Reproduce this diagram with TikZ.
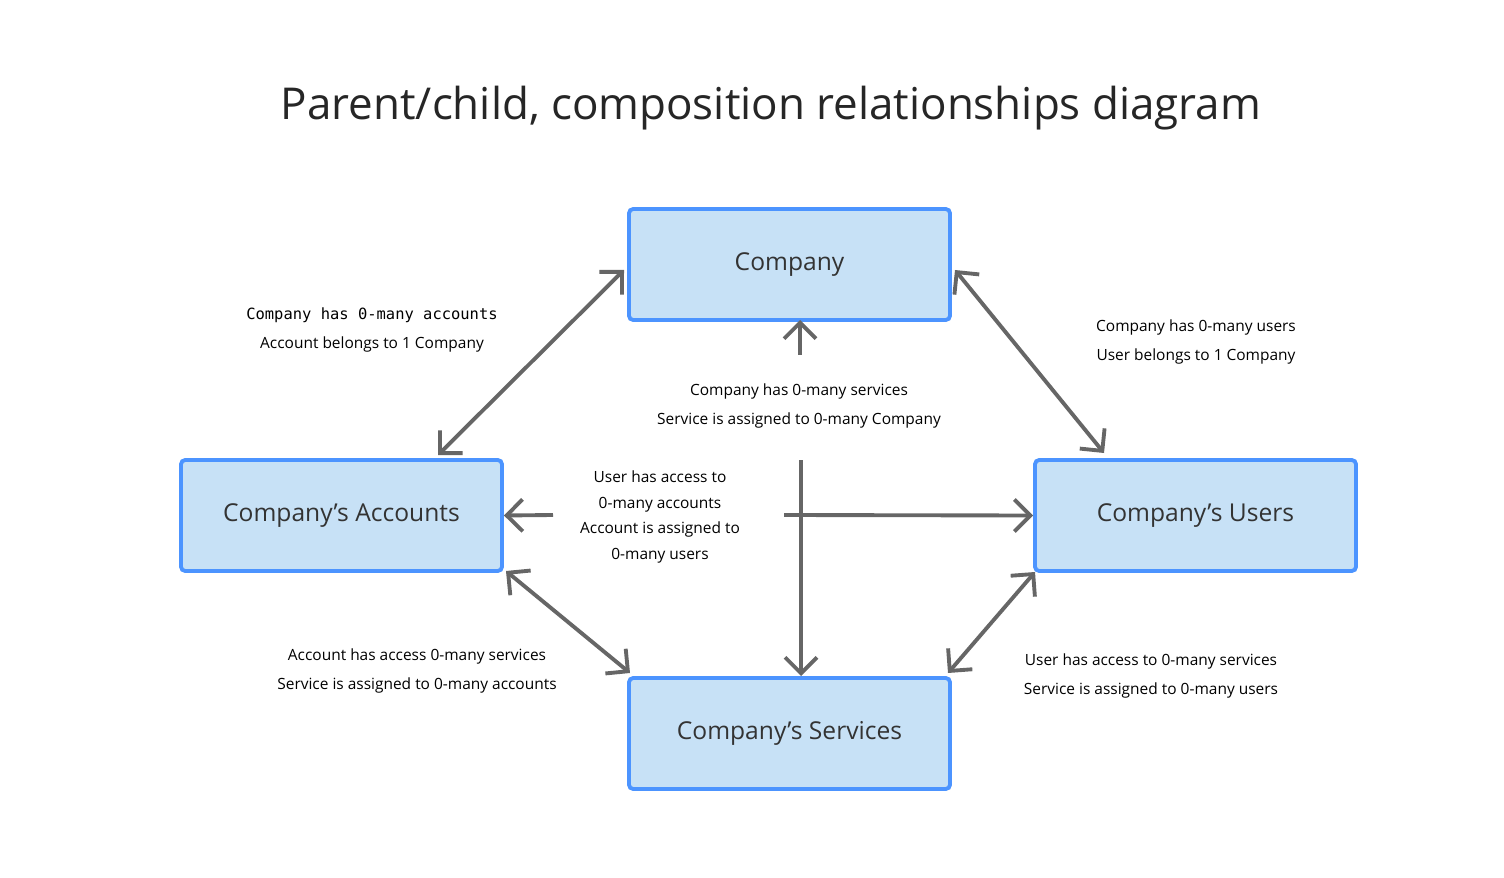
\documentclass[tikz,border=0pt]{standalone}
\usepackage{fontspec}
\setmainfont{Open Sans}
\setmonofont{DejaVu Sans Mono}
\usetikzlibrary{positioning,arrows.meta}
\tikzset{
  entity/.style={rectangle, draw=blue!60!cyan!70, line width=1.1pt, fill=cyan!20!blue!8!white!85!cyan,
    rounded corners=1.2pt, minimum width=3.21cm, minimum height=1.11cm, font=\fontsize{7}{8}\selectfont, text=black!80},
  line/.style={draw=black!60, line width=1.1pt, -{Straight Barb[length=1.6mm,width=3.2mm]}},
  both/.style={line, {Straight Barb[length=1.6mm,width=3.2mm]}-{Straight Barb[length=1.6mm,width=3.2mm]}},
  note/.style={align=center, font=\fontsize{4.4}{8.2}\selectfont}
}
\begin{document}
\begin{tikzpicture}
  \useasboundingbox (0,0) rectangle (15.04,8.77);
  % Place nodes
  \node[font=\fontsize{12.5}{14}\selectfont, text=black!85] (title) at (7.71,7.69) {Parent/child, composition relationships diagram};
  \node[entity] (company) at (7.895,6.125) {Company};
  \node[entity] (accounts) at (3.415,3.615) {Company’s Accounts};
  \node[entity] (users) at (11.955,3.615) {Company’s Users};
  \node[entity] (services) at (7.895,1.435) {Company’s Services};
  \coordinate (upfoot) at (8.00,5.22);
  \coordinate (vtop) at (8.01,4.17);
  \coordinate (lfoot) at (5.53,3.62);
  \coordinate (rfoot) at (7.84,3.62);
  % Labels
  \node[note] (accnote) at (3.72,5.47) {{\ttfamily Company has 0-many accounts}\\Account belongs to 1 Company};
  \node[note] (usrnote) at (11.96,5.35) {Company has 0-many users\\User belongs to 1 Company};
  \node[note] (srvnote) at (7.99,4.71) {Company has 0-many services\\Service is assigned to 0-many Company};
  \node[note, font=\fontsize{4.4}{7.3}\selectfont] (midnote) at (6.60,3.60) {User has access to\\0-many accounts\\Account is assigned to\\0-many users};
  \node[note] (asnote) at (4.17,2.06) {Account has access 0-many services\\Service is assigned to 0-many accounts};
  \node[note] (usnote) at (11.51,2.01) {User has access to 0-many services\\Service is assigned to 0-many users};
  % Draw edges
  \path[both] (6.24,6.07) -- (4.38,4.22);
  \path[both] (9.55,6.07) -- (11.04,4.24);
  \path[both] (5.06,3.06) -- (6.30,2.04);
  \path[both] (10.35,3.05) -- (9.48,2.04);
  \path[line] (upfoot) -- (8.00,5.57);
  \path[line] (vtop) -- (8.01,2.01);
  \path[line] (lfoot) -- (accounts.east);
  \path[line] (rfoot) -- (users.west);
\end{tikzpicture}
\end{document}
